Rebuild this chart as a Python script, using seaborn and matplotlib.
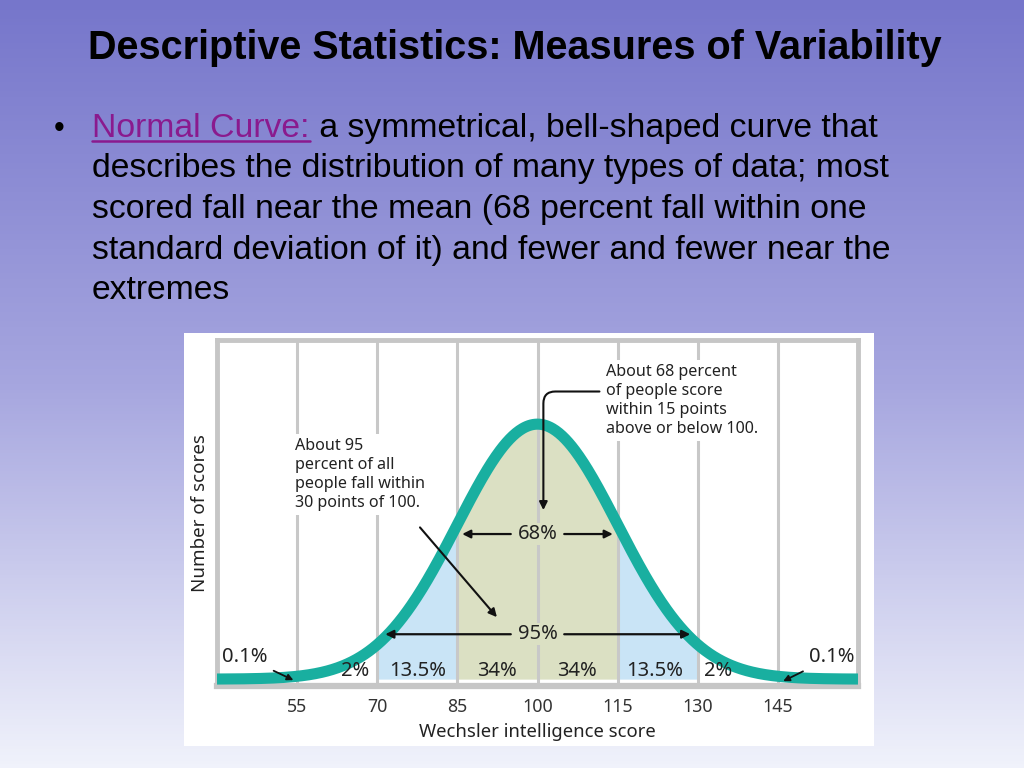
import numpy as np
import pandas as pd
import matplotlib
matplotlib.use("Agg")
import matplotlib.pyplot as plt
import seaborn as sns
from matplotlib.colors import LinearSegmentedColormap
from matplotlib.lines import Line2D

# ---------------- data ----------------
MEAN = 100
SD = 15
tick_scores = [55, 70, 85, 100, 115, 130, 145]
band_labels = ["2%", "13.5%", "34%", "34%", "13.5%", "2%"]
band_x = [65.8, 77.6, 92.4, 107.4, 122.0, 133.8]
tail_label = "0.1%"
title = "Descriptive Statistics: Measures of Variability"
bullet_term = "Normal Curve:"
bullet_lines = [
    " a symmetrical, bell-shaped curve that",
    "describes the distribution of many types of data; most",
    "scored fall near the mean (68 percent fall within one",
    "standard deviation of it) and fewer and fewer near the",
    "extremes",
]
note_95 = "About 95\npercent of all\npeople fall within\n30 points of 100."
note_68 = "About 68 percent\nof people score\nwithin 15 points\nabove or below 100."

# normal curve defined by mean and SD (relative height)
score = np.linspace(40, 160, 601)
height = np.exp(-0.5 * ((score - MEAN) / SD) ** 2)
df = pd.DataFrame({"score": score, "height": height})

# ---------------- figure ----------------
sns.set_theme(style="white")
plt.rcParams["font.family"] = ["Liberation Sans", "DejaVu Sans"]
fig = plt.figure(figsize=(10.24, 7.68), dpi=100)

# gradient background
bg = fig.add_axes([0, 0, 1, 1], zorder=-10)
cmap = LinearSegmentedColormap.from_list(
    "bg", [(0.0, "#7676cb"), (0.5, "#a6a6df"), (1.0, "#f0f2fb")])
grad = np.linspace(0, 1, 256).reshape(-1, 1)
bg.imshow(grad, aspect="auto", cmap=cmap, extent=[0, 1, 0, 1], origin="upper")
bg.set_axis_off()

# white picture box
fig.patches.append(plt.Rectangle((184 / 1024, 1 - 746 / 768), 690 / 1024, 413 / 768,
                                 transform=fig.transFigure, facecolor="white",
                                 edgecolor="none", zorder=-5))

# title
fig.text(0.503, 1 - 48 / 768, title, ha="center", va="center",
         fontsize=28.5, fontweight="bold", color="black",
         family=["Liberation Sans", "DejaVu Sans"])

# bullet
body_fs = 24.3
base0 = 137
fig.text(54 / 1024, 1 - base0 / 768, "•", fontsize=22, color="black", va="baseline")
t_term = fig.text(92 / 1024, 1 - base0 / 768, bullet_term, fontsize=body_fs,
                  color="#8a1a8e", va="baseline")
fig.canvas.draw()
r = fig.canvas.get_renderer()
bb = t_term.get_window_extent(r)
fig.text(bb.x1 / 1024, 1 - base0 / 768, bullet_lines[0], fontsize=body_fs,
         color="black", va="baseline")
uy = (768 - base0 - 4) / 768
fig.lines.append(Line2D([bb.x0 / 1024, bb.x1 / 1024], [uy, uy],
                        transform=fig.transFigure, color="#8a1a8e", lw=1.8))
for i, line in enumerate(bullet_lines[1:], start=1):
    fig.text(92 / 1024, 1 - (base0 + 40.5 * i) / 768, line, fontsize=body_fs,
             color="black", va="baseline")

# ---------------- chart ----------------
ax = fig.add_axes([217 / 1024, 1 - 686 / 768, 641 / 1024, 346 / 768])
ax.set_facecolor("white")
ax.set_xlim(40, 160)
ax.set_ylim(-0.027, 1.33)

green = "#dbe0c3"
blue = "#c9e4f6"
band_colors = {(70, 85): blue, (85, 100): green, (100, 115): green, (115, 130): blue}
for (a, b), c in band_colors.items():
    m = (df["score"] >= a) & (df["score"] <= b)
    ax.fill_between(df["score"][m], 0, df["height"][m], color=c, lw=0, zorder=1)

for s in tick_scores:
    ax.axvline(s, color="#c8c8c8", lw=2.2, zorder=2)

sns.lineplot(data=df, x="score", y="height", ax=ax, color="#19afa0",
             lw=8, zorder=4, solid_capstyle="butt")

for sp in ax.spines.values():
    sp.set_color("#c6c6c6")
    sp.set_linewidth(3.5)
ax.spines["bottom"].set_linewidth(4.5)

chart_font = ["Noto Sans", "DejaVu Sans"]
txt_color = "#222222"

ax.set_xticks(tick_scores)
ax.set_xticklabels([str(t) for t in tick_scores])
ax.set_yticks([])
ax.tick_params(axis="x", length=0, pad=9, labelsize=12.8, labelcolor="#333333")
for lab in ax.get_xticklabels():
    lab.set_family(chart_font)
ax.set_xlabel("Wechsler intelligence score", fontsize=13.3, color=txt_color,
              labelpad=5, family=chart_font)
ax.set_ylabel("Number of scores", fontsize=13.5, color=txt_color,
              labelpad=6, family=chart_font)

# band percentage labels
for x, lab in zip(band_x, band_labels):
    ax.text(x, 0.03, lab, ha="center", va="center", fontsize=14.5,
            color=txt_color, family=chart_font, zorder=6)

# tail labels with arrows
ax.annotate(tail_label, xy=(54.3, -0.004), xytext=(41.0, 0.086),
            ha="left", va="center", fontsize=14.5, color=txt_color, family=chart_font,
            arrowprops=dict(arrowstyle="-|>", color="#111111", lw=1.3,
                            mutation_scale=9, shrinkA=2, shrinkB=0), zorder=6)
ax.annotate(tail_label, xy=(146.0, -0.008), xytext=(159.3, 0.086),
            ha="right", va="center", fontsize=14.5, color=txt_color, family=chart_font,
            arrowprops=dict(arrowstyle="-|>", color="#111111", lw=1.3,
                            mutation_scale=9, shrinkA=2, shrinkB=0), zorder=6)

# 68% double arrows
arrow_kw = dict(arrowstyle="-|>", color="#111111", lw=1.6, mutation_scale=12,
                shrinkA=0, shrinkB=0)
y68 = 0.569
ax.annotate("", xy=(85.9, y68), xytext=(95.0, y68), arrowprops=arrow_kw, zorder=6)
ax.annotate("", xy=(114.1, y68), xytext=(105.0, y68), arrowprops=arrow_kw, zorder=6)
ax.text(100, y68, "68%", ha="center", va="center", fontsize=14.5, color=txt_color,
        family=chart_font, zorder=7,
        bbox=dict(boxstyle="square,pad=0.05", fc=green, ec="none"))

# 95% double arrows
y95 = 0.176
ax.annotate("", xy=(71.5, y95), xytext=(95.0, y95), arrowprops=arrow_kw, zorder=6)
ax.annotate("", xy=(128.6, y95), xytext=(105.0, y95), arrowprops=arrow_kw, zorder=6)
ax.text(100, y95, "95%", ha="center", va="center", fontsize=14.5, color=txt_color,
        family=chart_font, zorder=7,
        bbox=dict(boxstyle="square,pad=0.05", fc=green, ec="none"))

# note for 95%
ax.text(54.6, 0.945, note_95, ha="left", va="top", fontsize=11.6, color=txt_color,
        family=chart_font, linespacing=1.25, zorder=7,
        bbox=dict(boxstyle="square,pad=0.25", fc="white", ec="none"))
ax.annotate("", xy=(92.4, 0.243), xytext=(78.0, 0.595),
            arrowprops=dict(arrowstyle="-|>", color="#111111", lw=1.5,
                            mutation_scale=12, shrinkA=0, shrinkB=0), zorder=8)

# note for 68%
ax.text(112.8, 1.235, note_68, ha="left", va="top", fontsize=11.6, color=txt_color,
        family=chart_font, linespacing=1.25, zorder=7,
        bbox=dict(boxstyle="square,pad=0.25", fc="white", ec="none"))
ax.annotate("", xy=(101.1, 0.663), xytext=(111.6, 1.128),
            arrowprops=dict(arrowstyle="-|>", color="#111111", lw=1.5,
                            mutation_scale=12, shrinkA=0, shrinkB=0,
                            connectionstyle="angle,angleA=180,angleB=90,rad=12"),
            zorder=8)

fig.savefig("out.png", dpi=100)
